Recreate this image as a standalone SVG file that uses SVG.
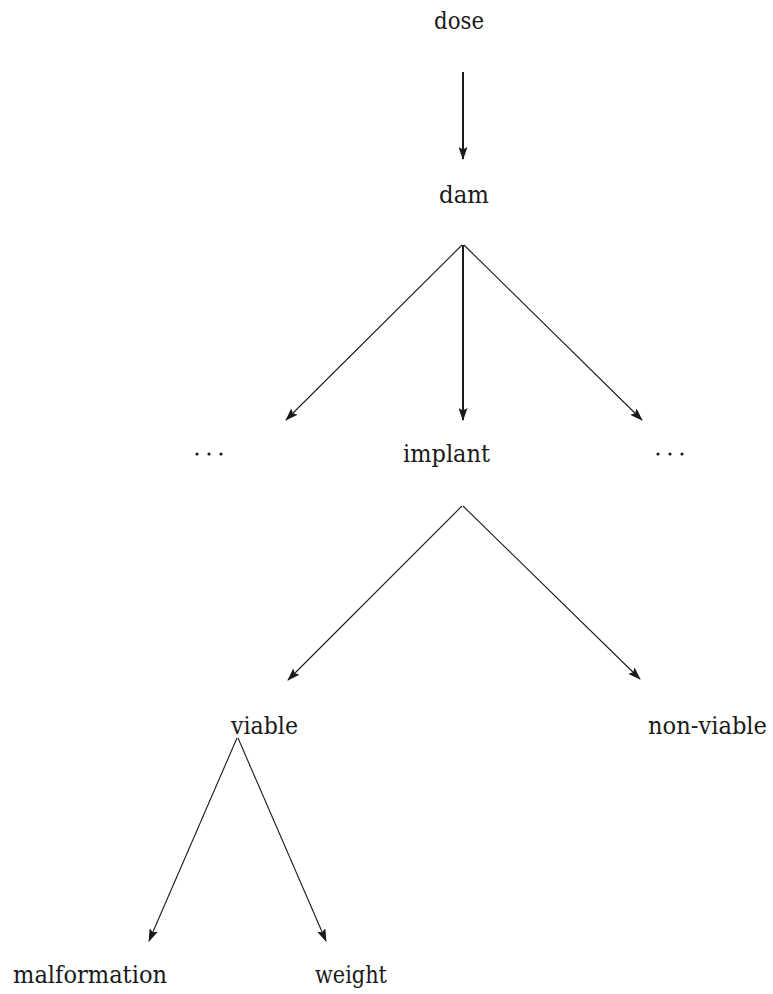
<svg xmlns="http://www.w3.org/2000/svg" width="773" height="994" viewBox="0 0 773 994">
  <style>
    text { font-family: 'DejaVu Serif', 'Liberation Serif', serif; font-size: 24px; fill: #1a1a1a; text-anchor: middle; }
    .edge { stroke: #1a1a1a; fill: none; stroke-width: 1.1; marker-end: url(#head); }
    .edge.bold { stroke-width: 2; }
    .dot { fill: #1a1a1a; }
  </style>
  <defs>
    <!-- filled arrowhead with a slightly notched back -->
    <marker id="head" viewBox="0 0 13 9" refX="12" refY="4.5" markerWidth="13" markerHeight="9" markerUnits="userSpaceOnUse" orient="auto">
      <path d="M0,0 L13,4.5 L0,9 L2.5,4.5 Z" fill="#1a1a1a"/>
    </marker>
  </defs>

  <g id="connectors">
    <line class="edge bold" x1="463" y1="72" x2="463" y2="159"/>
    <line class="edge bold" x1="463" y1="245" x2="463" y2="420"/>
    <line class="edge" x1="462" y1="245" x2="286" y2="420"/>
    <line class="edge" x1="464" y1="245" x2="642" y2="420"/>
    <line class="edge" x1="462" y1="506" x2="288" y2="680"/>
    <line class="edge" x1="463" y1="506" x2="640" y2="679"/>
    <line class="edge" x1="237" y1="738" x2="149" y2="941"/>
    <line class="edge" x1="238" y1="738" x2="326" y2="941"/>
  </g>

  <g id="dose"><text x="459" y="29" textLength="50" lengthAdjust="spacingAndGlyphs">dose</text></g>
  <g id="dam"><text x="464" y="203" textLength="50" lengthAdjust="spacingAndGlyphs">dam</text></g>
  <g id="other-left">
    <circle class="dot" cx="197" cy="454" r="1.6"/>
    <circle class="dot" cx="209" cy="454" r="1.6"/>
    <circle class="dot" cx="221" cy="454" r="1.6"/>
  </g>
  <g id="implant"><text x="446.5" y="462" textLength="87" lengthAdjust="spacingAndGlyphs">implant</text></g>
  <g id="other-right">
    <circle class="dot" cx="658" cy="454" r="1.6"/>
    <circle class="dot" cx="670" cy="454" r="1.6"/>
    <circle class="dot" cx="682" cy="454" r="1.6"/>
  </g>
  <g id="viable"><text x="264.5" y="734" textLength="67" lengthAdjust="spacingAndGlyphs">viable</text></g>
  <g id="non-viable"><text x="707.5" y="734" textLength="119" lengthAdjust="spacingAndGlyphs">non-viable</text></g>
  <g id="malformation"><text x="90" y="983" textLength="154" lengthAdjust="spacingAndGlyphs">malformation</text></g>
  <g id="weight"><text x="351" y="983" textLength="72" lengthAdjust="spacingAndGlyphs">weight</text></g>
</svg>
